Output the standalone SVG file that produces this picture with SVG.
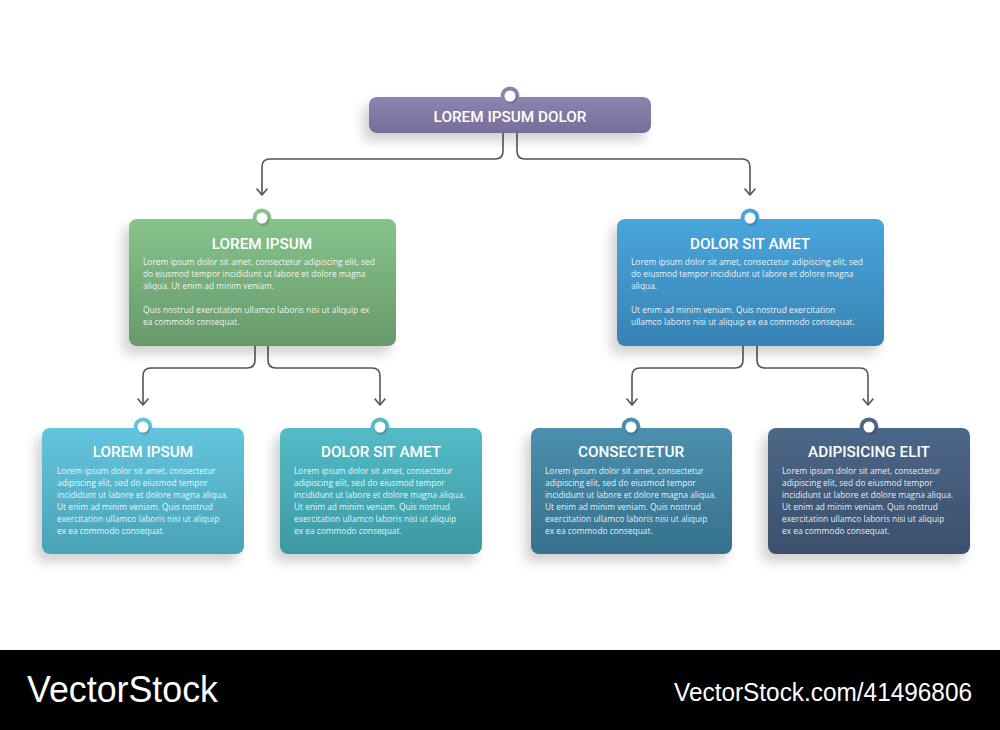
<svg xmlns="http://www.w3.org/2000/svg" width="1000" height="730" viewBox="0 0 1000 730">
<defs>
<style>
.title{font-family:Roboto,"Liberation Sans",sans-serif;font-weight:500;font-size:15.3px;fill:#fff;text-anchor:middle}
.body{font-family:"Open Sans","Liberation Sans",sans-serif;font-size:8.4px;fill:#fff;fill-opacity:.92}
.conn{fill:none;stroke:#555;stroke-width:1.6;stroke-linejoin:round}
.pinw{fill:#fff}
.wm{font-family:"Liberation Sans",Arial,sans-serif;fill:#fff}
</style>
<filter id="sh" x="-20%" y="-20%" width="140%" height="160%">
<feDropShadow dx="-6" dy="8" stdDeviation="6" flood-color="#000" flood-opacity="0.18"/>
</filter>
<filter id="psh" x="-50%" y="-50%" width="200%" height="200%">
<feDropShadow dx="1" dy="1.5" stdDeviation="1" flood-color="#000" flood-opacity="0.35"/>
</filter>
<marker id="arr" markerWidth="12" markerHeight="12" refX="10" refY="6" orient="auto" markerUnits="userSpaceOnUse" viewBox="0 0 12 12">
<path d="M4,1 L10,6 L4,11" fill="none" stroke="#555" stroke-width="1.6" stroke-linecap="round" stroke-linejoin="round"/>
</marker>
<linearGradient id="gP" x1="0" y1="0" x2="0" y2="1"><stop offset="0" stop-color="#8c84ae"/><stop offset="1" stop-color="#776d99"/></linearGradient>
<linearGradient id="gG" x1="0" y1="0" x2="0" y2="1"><stop offset="0" stop-color="#87c38b"/><stop offset="1" stop-color="#66996a"/></linearGradient>
<linearGradient id="gB" x1="0" y1="0" x2="0" y2="1"><stop offset="0" stop-color="#48a6db"/><stop offset="1" stop-color="#3882b4"/></linearGradient>
<linearGradient id="g1" x1="0" y1="0" x2="0" y2="1"><stop offset="0" stop-color="#63c5de"/><stop offset="1" stop-color="#4ba2b6"/></linearGradient>
<linearGradient id="g2" x1="0" y1="0" x2="0" y2="1"><stop offset="0" stop-color="#53bcc8"/><stop offset="1" stop-color="#3d98a3"/></linearGradient>
<linearGradient id="g3" x1="0" y1="0" x2="0" y2="1"><stop offset="0" stop-color="#4b8fae"/><stop offset="1" stop-color="#37718c"/></linearGradient>
<linearGradient id="g4" x1="0" y1="0" x2="0" y2="1"><stop offset="0" stop-color="#4c6788"/><stop offset="1" stop-color="#3b506c"/></linearGradient>
</defs>
<rect x="0" y="0" width="1000" height="730" fill="#fff"/>

<g id="connectors">
<path class="conn" d="M503,133 V151 Q503,159 495,159 H270 Q262,159 262,167 V195" marker-end="url(#arr)"/>
<path class="conn" d="M517,133 V151 Q517,159 525,159 H742 Q750,159 750,167 V195" marker-end="url(#arr)"/>
<path class="conn" d="M255,346 V360 Q255,368 247,368 H151 Q143,368 143,376 V405" marker-end="url(#arr)"/>
<path class="conn" d="M268,346 V360 Q268,368 276,368 H372 Q380,368 380,376 V405" marker-end="url(#arr)"/>
<path class="conn" d="M743,346 V360 Q743,368 735,368 H640 Q632,368 632,376 V405" marker-end="url(#arr)"/>
<path class="conn" d="M757,346 V360 Q757,368 765,368 H860 Q868,368 868,376 V405" marker-end="url(#arr)"/>
</g>

<g id="top-node">
<rect x="369" y="97" width="282" height="36" rx="8" fill="url(#gP)" filter="url(#sh)"/>
<circle cx="510" cy="96" r="9.5" fill="#8c84ae"/>
<circle cx="510" cy="96" r="5.5" class="pinw" filter="url(#psh)"/>
<text class="title" x="510" y="122">LOREM IPSUM DOLOR</text>
</g>

<g id="green-node">
<rect x="129" y="219" width="267" height="127" rx="8" fill="url(#gG)" filter="url(#sh)"/>
<circle cx="262" cy="218" r="9.5" fill="#87c38b"/>
<circle cx="262" cy="218" r="5.5" class="pinw" filter="url(#psh)"/>
<text class="title" x="262" y="249">LOREM IPSUM</text>
<text class="body" x="143" y="265">Lorem ipsum dolor sit amet, consectetur adipiscing elit, sed</text>
<text class="body" x="143" y="277">do eiusmod tempor incididunt ut labore et dolore magna</text>
<text class="body" x="143" y="289">aliqua. Ut enim ad minim veniam.</text>
<text class="body" x="143" y="313">Quis nostrud exercitation ullamco laboris nisi ut aliquip ex</text>
<text class="body" x="143" y="325">ea commodo consequat.</text>
</g>

<g id="blue-node">
<rect x="617" y="219" width="267" height="127" rx="8" fill="url(#gB)" filter="url(#sh)"/>
<circle cx="750" cy="218" r="9.5" fill="#48a6db"/>
<circle cx="750" cy="218" r="5.5" class="pinw" filter="url(#psh)"/>
<text class="title" x="750" y="249">DOLOR SIT AMET</text>
<text class="body" x="631" y="265">Lorem ipsum dolor sit amet, consectetur adipiscing elit, sed</text>
<text class="body" x="631" y="277">do eiusmod tempor incididunt ut labore et dolore magna</text>
<text class="body" x="631" y="289">aliqua.</text>
<text class="body" x="631" y="313">Ut enim ad minim veniam. Quis nostrud exercitation</text>
<text class="body" x="631" y="325">ullamco laboris nisi ut aliquip ex ea commodo consequat.</text>
</g>

<g id="node-lorem-ipsum">
<rect x="42" y="428" width="202" height="126" rx="8" fill="url(#g1)" filter="url(#sh)"/>
<circle cx="143" cy="427" r="9.5" fill="#63c5de"/>
<circle cx="143" cy="427" r="5.5" class="pinw" filter="url(#psh)"/>
<text class="title" x="143" y="457">LOREM IPSUM</text>
<text class="body" x="57" y="474">Lorem ipsum dolor sit amet, consectetur</text>
<text class="body" x="57" y="486">adipiscing elit, sed do eiusmod tempor</text>
<text class="body" x="57" y="498">incididunt ut labore et dolore magna aliqua.</text>
<text class="body" x="57" y="510">Ut enim ad minim veniam. Quis nostrud</text>
<text class="body" x="57" y="522">exercitation ullamco laboris nisi ut aliquip</text>
<text class="body" x="57" y="534">ex ea commodo consequat.</text>
</g>

<g id="node-dolor-sit-amet">
<rect x="280" y="428" width="202" height="126" rx="8" fill="url(#g2)" filter="url(#sh)"/>
<circle cx="380" cy="427" r="9.5" fill="#53bcc8"/>
<circle cx="380" cy="427" r="5.5" class="pinw" filter="url(#psh)"/>
<text class="title" x="381" y="457">DOLOR SIT AMET</text>
<text class="body" x="294" y="474">Lorem ipsum dolor sit amet, consectetur</text>
<text class="body" x="294" y="486">adipiscing elit, sed do eiusmod tempor</text>
<text class="body" x="294" y="498">incididunt ut labore et dolore magna aliqua.</text>
<text class="body" x="294" y="510">Ut enim ad minim veniam. Quis nostrud</text>
<text class="body" x="294" y="522">exercitation ullamco laboris nisi ut aliquip</text>
<text class="body" x="294" y="534">ex ea commodo consequat.</text>
</g>

<g id="node-consectetur">
<rect x="531" y="428" width="201" height="126" rx="8" fill="url(#g3)" filter="url(#sh)"/>
<circle cx="631" cy="427" r="9.5" fill="#4b8fae"/>
<circle cx="631" cy="427" r="5.5" class="pinw" filter="url(#psh)"/>
<text class="title" x="631" y="457">CONSECTETUR</text>
<text class="body" x="545" y="474">Lorem ipsum dolor sit amet, consectetur</text>
<text class="body" x="545" y="486">adipiscing elit, sed do eiusmod tempor</text>
<text class="body" x="545" y="498">incididunt ut labore et dolore magna aliqua.</text>
<text class="body" x="545" y="510">Ut enim ad minim veniam. Quis nostrud</text>
<text class="body" x="545" y="522">exercitation ullamco laboris nisi ut aliquip</text>
<text class="body" x="545" y="534">ex ea commodo consequat.</text>
</g>

<g id="node-adipisicing-elit">
<rect x="768" y="428" width="202" height="126" rx="8" fill="url(#g4)" filter="url(#sh)"/>
<circle cx="869" cy="427" r="9.5" fill="#4c6788"/>
<circle cx="869" cy="427" r="5.5" class="pinw" filter="url(#psh)"/>
<text class="title" x="869" y="457">ADIPISICING ELIT</text>
<text class="body" x="782" y="474">Lorem ipsum dolor sit amet, consectetur</text>
<text class="body" x="782" y="486">adipiscing elit, sed do eiusmod tempor</text>
<text class="body" x="782" y="498">incididunt ut labore et dolore magna aliqua.</text>
<text class="body" x="782" y="510">Ut enim ad minim veniam. Quis nostrud</text>
<text class="body" x="782" y="522">exercitation ullamco laboris nisi ut aliquip</text>
<text class="body" x="782" y="534">ex ea commodo consequat.</text>
</g>

<g id="footer">
<rect x="0" y="650" width="1000" height="80" fill="#000"/>
<text class="wm" x="27" y="702" font-size="36" textLength="191" lengthAdjust="spacingAndGlyphs">VectorStock</text>
<text class="wm" x="674" y="701" font-size="25" textLength="298" lengthAdjust="spacingAndGlyphs">VectorStock.com/41496806</text>
</g>
</svg>
